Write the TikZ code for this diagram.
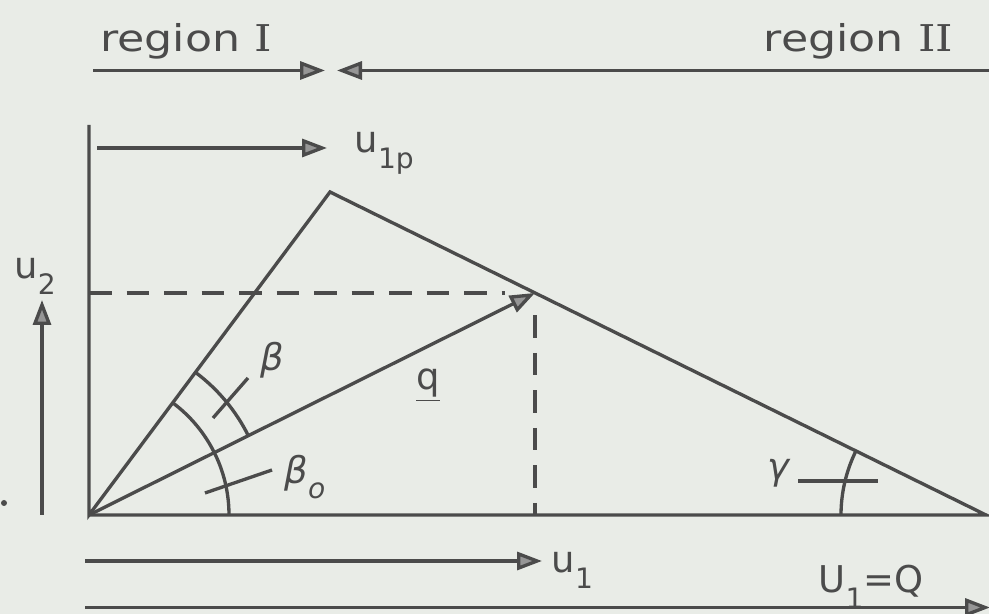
\documentclass[tikz,border=0pt]{standalone}
\usepackage{fontspec}
\setmainfont{DejaVu Sans}
\newfontfamily\regfont{DejaVu Sans}[FakeStretch=1.2]
\newfontfamily\numfont{DejaVu Serif}[FakeStretch=1.2]
\usetikzlibrary{arrows.meta,calc}
\definecolor{paper}{RGB}{233,236,231}
\definecolor{ink}{RGB}{75,75,75}
\definecolor{tipgray}{RGB}{150,150,150}
\newcommand{\lsub}[1]{\raisebox{-0.42em}{\fontsize{16}{18}\selectfont #1}}

\begin{document}
\begin{tikzpicture}[color=ink, line width=1.9pt,
    lbl/.style={inner sep=0pt, text=ink, font=\fontsize{21}{25}\selectfont},
    vec/.style={-{Triangle[length=0.5cm,width=0.36cm,fill=tipgray]}},
    guide/.style={dash pattern=on 0.45cm off 0.3cm}]
    \useasboundingbox[fill=paper] (0,0) rectangle (19.78,12.28);

    \coordinate (o) at (1.78,1.98);
    \coordinate (p) at (6.60,8.44);
    \coordinate (r) at (19.72,1.98);
    \coordinate (q) at ($(p)!0.3125!(r)$);
    \coordinate (qx) at (o -| q);
    \coordinate (qy) at (o |- q);
    \coordinate (top) at (1.78,9.78);

    \node[lbl, anchor=base] (reg1) at (3.72,11.24) {\regfont region \numfont I};
    \node[lbl, anchor=base] (reg2) at (17.17,11.24) {\regfont region \numfont II};
    \coordinate (r1a) at (1.86,10.87);
    \coordinate (r1b) at (6.50,10.87);
    \coordinate (r2a) at (19.80,10.87);
    \coordinate (r2b) at (6.74,10.87);
    \draw[vec] (r1a) -- (r1b);
    \draw[vec] (r2a) -- (r2b);

    \coordinate (u1pa) at (1.94,9.32);
    \coordinate (u1pb) at (6.54,9.32);
    \draw[vec] (u1pa) -- (u1pb);
    \node[lbl, anchor=base west] (u1p) at (7.06,9.22) {u\lsub{1p}};

    \draw (top) -- (o) -- (p) -- (r) -- (o);
    \draw[vec] (o) -- (q);
    \draw[guide, shorten >=0.6cm] (qy) -- (q);
    \draw[guide, shorten <=0.45cm] (q) -- (qx);
    \node[lbl, anchor=base] (qlbl) at (8.56,4.48) {\underline{q}};

    \draw ($(o)+(2.8,0)$) arc[start angle=0, end angle=53.3, radius=2.8];
    \draw ($(o)+(26.46:3.56)$) arc[start angle=26.46, end angle=53.3, radius=3.56];
    \draw (4.26,3.92) -- (4.96,4.72);
    \draw (4.10,2.42) -- (5.44,2.88);
    \node[lbl] (beta) at (5.44,5.08) {\itshape β};
    \node[lbl] (beta0) at (6.10,2.74) {\itshape β\lsub{o}};

    \draw ($(r)+(-2.9,0)$) arc[start angle=180, end angle=153.78, radius=2.9];
    \draw (15.96,2.66) -- (17.56,2.66);
    \node[lbl] (gamma) at (15.56,2.82) {\itshape γ};

    \coordinate (u2a) at (0.84,1.98);
    \coordinate (u2b) at (0.84,6.28);
    \draw[vec] (u2a) -- (u2b);
    \node[lbl] (u2) at (0.70,6.76) {u\lsub{2}};
    \fill (0.08,2.22) circle (0.06);

    \coordinate (u1a) at (1.70,1.06);
    \coordinate (u1b) at (10.84,1.06);
    \draw[vec] (u1a) -- (u1b);
    \node[lbl, anchor=base west] (u1) at (11.0,0.82) {u\lsub{1}};

    \coordinate (U1a) at (1.70,0.13);
    \coordinate (U1b) at (19.80,0.13);
    \draw[vec] (U1a) -- (U1b);
    \node[lbl, anchor=base west] (U1) at (16.34,0.42) {U\lsub{1}=Q};
\end{tikzpicture}
\end{document}
